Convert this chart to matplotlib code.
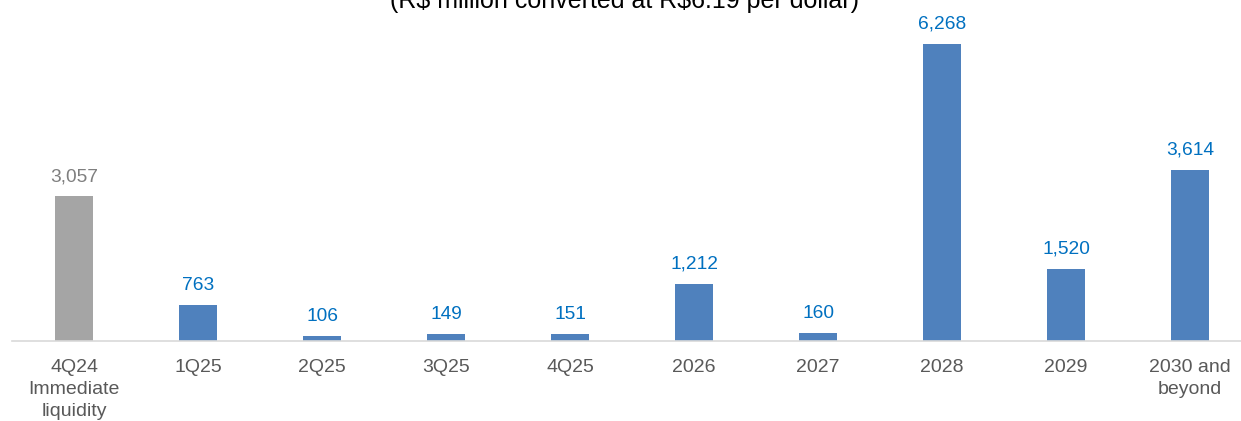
import matplotlib
matplotlib.use("Agg")
import matplotlib.pyplot as plt

categories = ["4Q24\nImmediate\nliquidity", "1Q25", "2Q25", "3Q25", "4Q25",
              "2026", "2027", "2028", "2029", "2030 and\nbeyond"]
values = [3057, 763, 106, 149, 151, 1212, 160, 6268, 1520, 3614]
value_labels = ["3,057", "763", "106", "149", "151", "1,212", "160", "6,268", "1,520", "3,614"]
title = r"(R\$ million converted at R\$6.19 per dollar)"

plt.rcParams['font.family'] = ['Liberation Sans', 'DejaVu Sans']

fig = plt.figure(figsize=(12.41, 4.21), dpi=100)
ax = fig.add_axes([12/1241, 80/421, 1 - 12/1241, 341/421])

colors = ["#A5A5A5"] + ["#4F81BD"] * (len(values) - 1)
label_colors = ["#7F7F7F"] + ["#0070C0"] * (len(values) - 1)
x = list(range(len(values)))
bars = ax.bar(x, values, width=0.31, color=colors, zorder=2)

for xi, v, lab, c in zip(x, values, value_labels, label_colors):
    ax.annotate(lab, (xi, v), xytext=(0, 8), textcoords="offset points",
                ha="center", va="bottom", fontsize=13.8, color=c)

ax.set_xlim(-0.5, 9.41)
ax.set_ylim(0, 7197)
ax.set_xticks(x)
ax.set_xticklabels(categories, fontsize=14, color="#595959", linespacing=1.4)
ax.tick_params(axis="x", length=0, pad=13)
ax.set_yticks([])
for s in ["top", "right", "left"]:
    ax.spines[s].set_visible(False)
ax.spines["bottom"].set_color("#D9D9D9")
ax.spines["bottom"].set_linewidth(1.2)
ax.patch.set_alpha(0)

fig.text(625/1241, 1 - 8/421, title, ha="center", va="baseline",
         fontsize=18, color="#000000")

fig.savefig("out.png", dpi=100)
